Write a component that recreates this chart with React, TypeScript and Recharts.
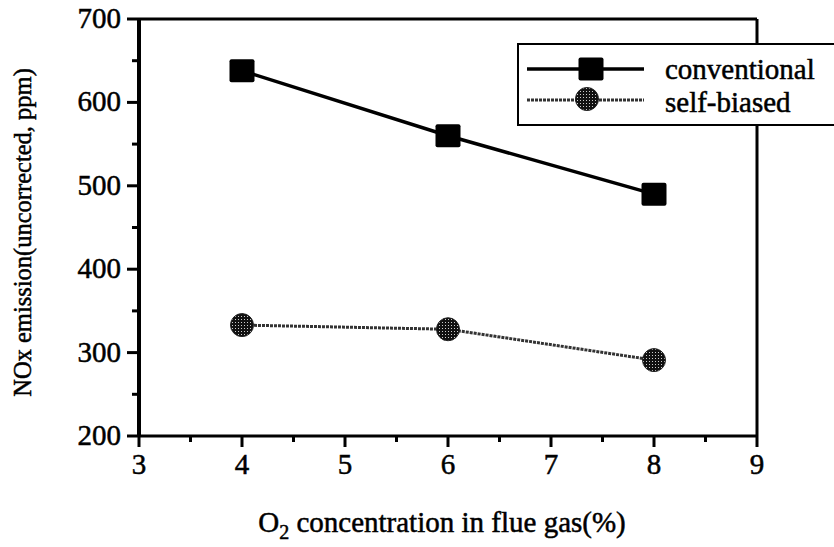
import { LineChart, Line, XAxis, YAxis, ReferenceLine, Legend } from 'recharts';

if (typeof document !== 'undefined') document.body.style.margin = '0';

const FONT = 'Liberation Serif';

const o2Levels = [4, 6, 8];
const conventionalNox = [638, 560, 490];
const selfBiasedNox = [333, 328, 291];
const xTicks = [3, 3.5, 4, 4.5, 5, 5.5, 6, 6.5, 7, 7.5, 8, 8.5, 9];
const yTicks = [200, 250, 300, 350, 400, 450, 500, 550, 600, 650, 700];

const data = o2Levels.map((x, i) => ({
  x,
  conventional: conventionalNox[i],
  selfBiased: selfBiasedNox[i],
}));

// scanned text looks heavy, thicken it a little
const ink = { fill: '#000', stroke: '#000', strokeWidth: 0.5, fontFamily: FONT };

function Square({ cx, cy }: { cx?: number; cy?: number }) {
  if (cx == null || cy == null) return null;
  return <rect x={cx - 12.5} y={cy - 11.5} width={25} height={23} rx={2} fill="#000" />;
}

function Stipple({ cx, cy }: { cx?: number; cy?: number }) {
  if (cx == null || cy == null) return null;
  return <circle cx={cx} cy={cy} r={11.5} fill="url(#stipple)" stroke="#222" strokeWidth={1} />;
}

function XTick({ x, y, payload }: any) {
  const major = Number.isInteger(payload.value);
  return (
    <g>
      <line x1={x} y1={y} x2={x} y2={y + (major ? 11 : 6)} stroke="#000" strokeWidth={3} />
      {major && (
        <text x={x} y={y + 38} textAnchor="middle" fontSize={29} {...ink}>
          {payload.value}
        </text>
      )}
    </g>
  );
}

function YTick({ x, y, payload }: any) {
  const major = payload.value % 100 === 0;
  return (
    <g>
      <line x1={x} y1={y} x2={x - (major ? 12 : 7)} y2={y} stroke="#000" strokeWidth={3} />
      {major && (
        <text x={x - 18} y={y + 9} textAnchor="end" fontSize={29} {...ink}>
          {payload.value}
        </text>
      )}
    </g>
  );
}

function YTitle({ viewBox }: any) {
  const cy = viewBox.y + viewBox.height / 2 + 5;
  return (
    <text x={31} y={cy} transform={`rotate(-90, 31, ${cy})`} textAnchor="middle" fontSize={24.5} {...ink}>
      NOx emission(uncorrected, ppm)
    </text>
  );
}

function XTitle({ viewBox }: any) {
  const cx = viewBox.x + viewBox.width / 2 - 6;
  return (
    <text x={cx} y={532} textAnchor="middle" fontSize={29} {...ink}>
      O<tspan fontSize={20} dy={7}>2</tspan>
      <tspan dy={-7}> concentration  in flue gas(%)</tspan>
    </text>
  );
}

function LegendBox() {
  return (
    <div
      style={{
        width: 330,
        height: 83,
        boxSizing: 'border-box',
        border: '2px solid #000',
        background: '#fff',
      }}
    >
      <svg width={326} height={79} style={{ display: 'block' }}>
        <line x1={8} y1={24} x2={125} y2={24} stroke="#000" strokeWidth={3.5} />
        <Square cx={72} cy={24} />
        <text x={146} y={34} fontSize={29} {...ink}>
          conventional
        </text>
        <line x1={8} y1={55} x2={125} y2={55} stroke="#333" strokeWidth={3} strokeDasharray="3 1" />
        <Stipple cx={68} cy={54} />
        <text x={146} y={67} fontSize={29} {...ink}>
          self-biased
        </text>
      </svg>
    </div>
  );
}

export default function App() {
  return (
    <div style={{ position: 'relative', width: 834, height: 547, background: '#fff' }}>
      <LineChart width={834} height={547} data={data} margin={{ top: 19, right: 77, left: 0, bottom: 0 }}>
        <defs>
          <pattern id="stipple" width={3} height={3} patternUnits="userSpaceOnUse">
            <rect width={3} height={3} fill="#111" />
            <rect x={1} y={1} width={1} height={1} fill="#ccc" />
          </pattern>
        </defs>
        <XAxis
          dataKey="x"
          type="number"
          domain={[3, 9]}
          ticks={xTicks}
          interval={0}
          height={111}
          tickSize={0}
          tickMargin={0}
          tickLine={false}
          tick={<XTick />}
          axisLine={{ stroke: '#000', strokeWidth: 3 }}
          label={<XTitle />}
        />
        <YAxis
          type="number"
          domain={[200, 700]}
          ticks={yTicks}
          interval={0}
          width={139}
          tickSize={0}
          tickMargin={0}
          tickLine={false}
          tick={<YTick />}
          axisLine={{ stroke: '#000', strokeWidth: 4 }}
          label={<YTitle />}
        />
        <ReferenceLine y={700} stroke="#000" strokeWidth={3} />
        <ReferenceLine x={9} stroke="#000" strokeWidth={3} />
        <Line
          dataKey="conventional"
          stroke="#000"
          strokeWidth={3.5}
          dot={<Square />}
          activeDot={false}
          isAnimationActive={false}
        />
        <Line
          dataKey="selfBiased"
          stroke="#333"
          strokeWidth={3}
          strokeDasharray="3 1"
          dot={<Stipple />}
          activeDot={false}
          isAnimationActive={false}
        />
        <Legend
          layout="horizontal"
          verticalAlign="middle"
          align="center"
          wrapperStyle={{ position: 'absolute', left: 517, top: 43, width: 330, height: 83 }}
          content={() => <LegendBox />}
        />
      </LineChart>
    </div>
  );
}
